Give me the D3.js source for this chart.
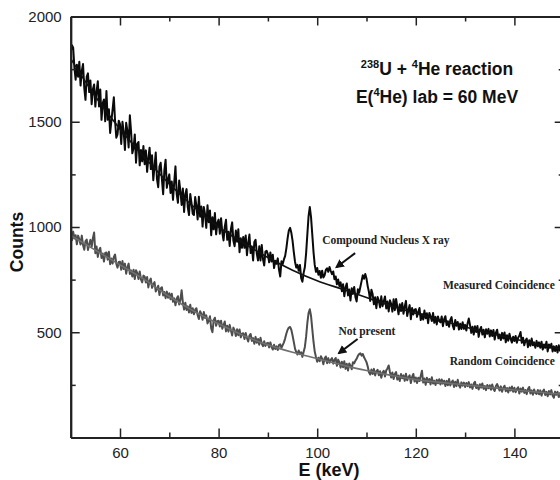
<!DOCTYPE html>
<html>
<head>
<meta charset="utf-8">
<script src="https://cdn.jsdelivr.net/npm/d3@7"></script>
<style>
  body { margin: 0; background: #fff; }
  svg { display: block; font-family: "Liberation Sans", Arial, sans-serif; }
  .tick text { font-size: 15px; fill: #222; }
</style>
</head>
<body>
<svg width="560" height="480"></svg>
<script>
// channel grid of the spectra (keV)
const eStart = 50;
const eStep = 0.25;

// measured coincidence counts, one value per 0.25 keV from 50 keV (5 keV per row)
const measured = [
  1832,1863,1852,1757,1700,1771,1714,1785,1672,1743,1774,1661,1604,1715,1730,1641,1696,1583,1654,1677,
  1572,1644,1692,1573,1653,1509,1589,1606,1502,1646,1510,1559,1447,1503,1559,1616,1504,1424,1440,1505,
  1489,1394,1500,1453,1366,1495,1457,1378,1531,1452,1350,1375,1440,1305,1395,1404,1293,1366,1312,1385,
  1298,1364,1262,1327,1377,1275,1341,1222,1288,1354,1228,1189,1287,1305,1227,1156,1270,1320,1186,1227,
  1250,1162,1216,1129,1213,1288,1157,1115,1221,1171,1105,1183,1071,1156,1180,1093,1057,1157,1114,1063,
  1057,1142,1101,1036,1144,1049,1097,1002,1095,1060,996,1103,1023,1078,961,1046,989,1066,965,1020,
  1035,968,1042,975,936,1002,1034,939,977,910,991,1022,934,909,983,930,989,880,947,901,
  953,901,960,866,925,964,876,908,841,929,939,873,841,908,841,915,848,817,883,887,
  870,832,879,836,868,805,840,825,851,798,765,837,824,846,863,900,947,984,996,973,
  935,882,835,807,820,792,820,757,740,782,810,875,965,1052,1095,1047,965,882,820,787,
  805,773,791,759,792,760,771,796,804,787,810,791,776,789,752,765,728,751,719,737,
  695,728,671,714,732,675,703,651,709,682,715,668,646,704,687,715,743,771,754,777,
  755,718,691,649,702,680,633,666,614,667,650,618,671,624,647,670,613,646,599,652,
  635,598,657,605,658,621,585,633,601,639,588,621,649,577,606,629,562,615,584,607,
  610,573,597,615,558,587,560,603,567,590,543,592,575,553,592,545,573,537,575,553,
  547,575,529,562,576,534,552,526,559,572,531,514,558,531,549,513,541,515,548,516,
  535,508,542,565,534,497,526,489,528,501,530,478,512,525,489,512,476,514,493,516,
  480,509,482,511,465,498,512,471,489,463,497,470,499,452,486,460,493,467,451,479,
  458,482,450,474,483,501,450,474,438,461,470,429,462,436,470,438,452,426,459,433,
  452,426,455,418,442,426,455,409,442,426,445,409,433,411,435,404,438,412,415,429,
  418
];

// random coincidence counts, same grid
const random = [
  970,937,978,945,961,918,959,941,917,959,915,892,933,940,891,918,939,906,947,974,
  875,907,858,890,901,853,874,836,877,879,845,882,823,850,826,858,869,826,807,834,
  835,797,838,800,826,778,809,826,777,794,765,797,753,795,781,753,789,751,737,769,
  765,736,762,713,744,755,711,727,738,694,705,721,677,708,714,675,691,662,693,664,
  685,657,683,645,661,628,659,671,632,654,700,642,608,640,606,623,594,631,592,614,
  585,607,614,581,563,600,587,559,596,568,580,542,554,576,518,500,557,569,531,553,
  555,527,555,517,534,551,504,531,503,535,508,485,522,509,482,514,486,513,476,493,
  495,468,496,473,456,484,492,459,472,445,478,450,468,441,474,446,434,457,435,447,
  450,428,452,430,418,441,420,433,416,439,443,426,439,452,471,494,512,522,525,512,
  485,454,422,406,394,413,396,405,383,407,430,479,544,591,609,578,516,455,408,382,
  360,379,362,386,374,348,376,385,353,377,355,369,377,351,369,378,341,370,358,332,
  360,334,362,326,350,318,352,341,324,358,352,365,374,388,396,400,389,397,381,370,
  358,337,310,299,323,302,326,295,314,322,296,315,284,308,317,290,319,328,342,311,
  285,309,278,302,311,275,294,268,302,281,295,269,303,272,286,295,259,288,302,266,
  285,259,284,268,292,317,261,280,250,284,263,278,252,286,256,270,249,274,258,277,
  252,276,256,270,245,269,248,278,247,262,271,240,265,244,274,248,237,262,246,261,
  240,259,244,263,238,252,231,256,265,235,249,228,253,237,257,231,245,225,249,234,
  248,227,252,231,221,245,254,239,223,243,217,236,246,220,235,214,238,223,242,217,
  236,215,230,239,209,233,218,237,212,226,206,230,240,209,224,203,228,212,207,226,
  205,224,199,218,228,202,217,196,221,205,225,199,189,218,203,217,192,211,196,215,
  205
];

// smooth background fits
const fitE = [50,55,60,65,70,75,80,85,90,95,100,105,110,115,120,125,130,135,140,145,150];
const fitMeasured = [1800,1620,1465,1330,1205,1095,1000,925,855,795,745,705,665,625,590,557,525,495,468,442,418];
const fitRandom = [960,890,820,750,670,600,540,485,440,405,375,345,318,295,275,262,250,238,226,215,205];

// axis ticks
const xMajor = [60, 80, 100, 120, 140];
const xMinor = [70, 90, 110, 130];
const yMajor = [500, 1000, 1500, 2000];
const yMinor = [250, 750, 1250, 1750];

const svg = d3.select('svg');

svg.append('rect')
   .attr('width', 560)
   .attr('height', 480)
   .attr('fill', '#fff');

// chart scale
const xScale = d3.scaleLinear().domain([50, 150]).range([70.7, 563.7]);
const yScale = d3.scaleLinear().domain([0, 2000]).range([437.5, 16.5]);

svg.append('clipPath')
   .attr('id', 'plotClip')
   .append('rect')
   .attr('x', xScale(50))
   .attr('y', yScale(2000))
   .attr('width', xScale(150) - xScale(50))
   .attr('height', yScale(0) - yScale(2000));

const plot = svg.append('g').attr('clip-path', 'url(#plotClip)');

// draw spectra
const spectrum = d3.line()
   .x((d, i) => xScale(eStart + i * eStep))
   .y(d => yScale(d));

const fitLine = d3.line()
   .x((d, i) => xScale(fitE[i]))
   .y(d => yScale(d))
   .curve(d3.curveMonotoneX);

plot.append('path')
   .attr('d', spectrum(random))
   .attr('fill', 'none')
   .attr('stroke', '#4d4d4d')
   .attr('stroke-width', 2)
   .attr('stroke-linejoin', 'round');

plot.append('path')
   .attr('d', fitLine(fitRandom))
   .attr('fill', 'none')
   .attr('stroke', '#707070')
   .attr('stroke-width', 1.6);

plot.append('path')
   .attr('d', spectrum(measured))
   .attr('fill', 'none')
   .attr('stroke', '#0a0a0a')
   .attr('stroke-width', 2)
   .attr('stroke-linejoin', 'round');

plot.append('path')
   .attr('d', fitLine(fitMeasured))
   .attr('fill', 'none')
   .attr('stroke', '#111')
   .attr('stroke-width', 1.6);

// axes, ticks pointing inwards
function styleAxis(g) {
  g.select('.domain').attr('stroke', '#222').attr('stroke-width', 2);
  g.selectAll('.tick line').attr('stroke', '#222').attr('stroke-width', 1.5);
}

svg.append('g')
   .attr('transform', `translate(0, ${yScale(0)})`)
   .call(d3.axisBottom(xScale).tickValues(xMajor).tickSize(-9).tickPadding(10).tickSizeOuter(0))
   .call(styleAxis);
svg.append('g')
   .attr('transform', `translate(0, ${yScale(0)})`)
   .call(d3.axisBottom(xScale).tickValues(xMinor).tickSize(-5).tickFormat('').tickSizeOuter(0))
   .call(styleAxis);

svg.append('g')
   .attr('transform', `translate(0, ${yScale(2000)})`)
   .call(d3.axisTop(xScale).tickValues(xMajor).tickSize(-9).tickFormat('').tickSizeOuter(0))
   .call(styleAxis);
svg.append('g')
   .attr('transform', `translate(0, ${yScale(2000)})`)
   .call(d3.axisTop(xScale).tickValues(xMinor).tickSize(-5).tickFormat('').tickSizeOuter(0))
   .call(styleAxis);

svg.append('g')
   .attr('transform', `translate(${xScale(50)}, 0)`)
   .call(d3.axisLeft(yScale).tickValues(yMajor).tickFormat(d3.format('d')).tickSize(-9).tickPadding(9).tickSizeOuter(0))
   .call(styleAxis);
svg.append('g')
   .attr('transform', `translate(${xScale(50)}, 0)`)
   .call(d3.axisLeft(yScale).tickValues(yMinor).tickSize(-5).tickFormat('').tickSizeOuter(0))
   .call(styleAxis);

svg.append('g')
   .attr('transform', `translate(${xScale(150)}, 0)`)
   .call(d3.axisRight(yScale).tickValues(yMajor).tickSize(-9).tickFormat('').tickSizeOuter(0))
   .call(styleAxis);
svg.append('g')
   .attr('transform', `translate(${xScale(150)}, 0)`)
   .call(d3.axisRight(yScale).tickValues(yMinor).tickSize(-5).tickFormat('').tickSizeOuter(0))
   .call(styleAxis);

// axis titles
svg.append('text')
   .text('E (keV)')
   .attr('x', 329)
   .attr('y', 476)
   .attr('text-anchor', 'middle')
   .style('font-size', '18px')
   .style('font-weight', 'bold')
   .attr('fill', '#111');

svg.append('text')
   .text('Counts')
   .attr('transform', 'translate(23, 242) rotate(-90)')
   .attr('text-anchor', 'middle')
   .style('font-size', '17.5px')
   .style('font-weight', 'bold')
   .attr('fill', '#111');

// reaction title
const title1 = svg.append('text')
   .attr('x', 437)
   .attr('y', 75)
   .attr('text-anchor', 'middle')
   .style('font-size', '17.5px')
   .style('font-weight', 'bold')
   .attr('fill', '#111');
title1.append('tspan').text('238').style('font-size', '11px').attr('dy', -7);
title1.append('tspan').text('U + ').attr('dy', 7);
title1.append('tspan').text('4').style('font-size', '11px').attr('dy', -7);
title1.append('tspan').text('He reaction').attr('dy', 7);

const title2 = svg.append('text')
   .attr('x', 437)
   .attr('y', 103)
   .attr('text-anchor', 'middle')
   .style('font-size', '17.5px')
   .style('font-weight', 'bold')
   .attr('fill', '#111');
title2.append('tspan').text('E(');
title2.append('tspan').text('4').style('font-size', '11px').attr('dy', -7);
title2.append('tspan').text('He) lab = 60 MeV').attr('dy', 7);

// annotations, placed in data units
const notes = [
  { text: 'Compound Nucleus X ray', e: 101.0, c: 919, anchor: 'start' },
  { text: 'Measured Coincidence', e: 148.2, c: 705, anchor: 'end' },
  { text: 'Not present', e: 104.3, c: 487, anchor: 'start' },
  { text: 'Random Coincidence', e: 148.2, c: 344, anchor: 'end' }
];
svg.append('g')
   .selectAll('text')
   .data(notes)
   .enter()
   .append('text')
   .text(d => d.text)
   .attr('x', d => xScale(d.e))
   .attr('y', d => yScale(d.c))
   .attr('text-anchor', d => d.anchor)
   .style('font-family', '"Liberation Serif", "Times New Roman", serif')
   .style('font-size', '11.5px')
   .style('font-weight', 'bold')
   .attr('fill', '#222');

svg.append('defs')
   .append('marker')
   .attr('id', 'head')
   .attr('viewBox', '0 0 10 10')
   .attr('refX', 8)
   .attr('refY', 5)
   .attr('markerWidth', 4.5)
   .attr('markerHeight', 4.5)
   .attr('orient', 'auto')
   .append('path')
   .attr('d', 'M0,0 L10,5 L0,10 Z')
   .attr('fill', '#111');

const arrows = [
  { e1: 107.7, c1: 876, e2: 103.9, c2: 809 },
  { e1: 108.2, c1: 468, e2: 104.4, c2: 401 }
];
svg.append('g')
   .selectAll('line')
   .data(arrows)
   .enter()
   .append('line')
   .attr('x1', d => xScale(d.e1))
   .attr('y1', d => yScale(d.c1))
   .attr('x2', d => xScale(d.e2))
   .attr('y2', d => yScale(d.c2))
   .attr('stroke', '#111')
   .attr('stroke-width', 2)
   .attr('marker-end', 'url(#head)');
</script>
</body>
</html>
